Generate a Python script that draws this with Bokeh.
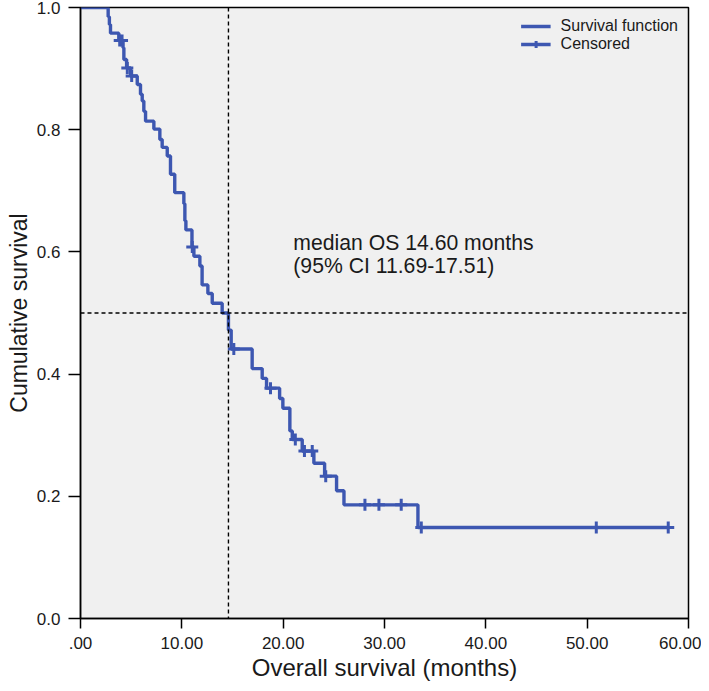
from bokeh.plotting import figure
from bokeh.models import Range1d, FixedTicker, Span, Legend, LegendItem, ColumnDataSource
from bokeh.core.properties import value
from bokeh.embed import file_html
from bokeh.resources import INLINE

# Kaplan-Meier step curve (time in months, cumulative survival after the step)
km_time = [0.0, 2.73, 2.85, 2.96, 3.78, 4.20, 4.28, 4.55, 4.95, 5.60, 5.92, 6.09,
           6.25, 6.42, 7.24, 7.83, 8.06, 8.56, 8.88, 9.30, 10.20, 10.30, 10.40,
           11.00, 11.19, 11.78, 12.00, 12.57, 13.00, 13.98, 14.60, 14.87, 16.94,
           17.93, 18.36, 19.65, 19.97, 20.66, 20.90, 21.88, 23.03, 24.09, 25.27,
           26.00, 33.30, 58.00]
km_surv = [1.000, 0.985, 0.972, 0.958, 0.946, 0.934, 0.915, 0.901, 0.888, 0.874,
           0.858, 0.847, 0.830, 0.814, 0.801, 0.784, 0.771, 0.757, 0.727, 0.697,
           0.679, 0.651, 0.636, 0.608, 0.593, 0.577, 0.546, 0.532, 0.516, 0.500,
           0.472, 0.441, 0.409, 0.393, 0.377, 0.360, 0.344, 0.307, 0.293, 0.274,
           0.254, 0.233, 0.209, 0.186, 0.149, 0.149]

# Censored observations
cens_time = [3.87, 4.10, 4.62, 5.05, 11.03, 15.13, 18.75, 21.20, 22.10, 22.87,
             24.20, 28.07, 29.45, 31.65, 33.63, 50.90, 58.00]
cens_surv = [0.946, 0.946, 0.901, 0.888, 0.608, 0.441, 0.377, 0.293, 0.274, 0.274,
             0.233, 0.186, 0.186, 0.186, 0.149, 0.149, 0.149]

x_ticks = [0, 10, 20, 30, 40, 50, 60]
x_tick_labels = [".00", "10.00", "20.00", "30.00", "40.00", "50.00", "60.00"]
y_ticks = [0.0, 0.2, 0.4, 0.6, 0.8, 1.0]
y_tick_labels = ["0.0", "0.2", "0.4", "0.6", "0.8", "1.0"]

median_os = 14.60
median_level = 0.5
ci_low, ci_high = 11.69, 17.51

BLUE = "#3d57b1"
FONT = "Liberation Sans"
INK = "#1a1a1a"

p = figure(width=701, height=683, output_backend="svg", toolbar_location=None,
           x_range=Range1d(0, 60), y_range=Range1d(0, 1),
           min_border_left=80, min_border_right=13, min_border_top=7,
           min_border_bottom=63)

p.background_fill_color = "#f0f0f0"
p.border_fill_color = "white"
p.outline_line_color = "black"
p.outline_line_width = 1.5
p.grid.visible = False

for ax in (p.xaxis, p.yaxis):
    ax.axis_line_color = "black"
    ax.axis_line_width = 1.5
    ax.major_tick_line_color = "black"
    ax.major_tick_line_width = 1.5
    ax.major_tick_in = 0
    ax.minor_tick_line_color = None
    ax.major_label_text_font = FONT
    ax.major_label_text_font_size = "17px"
    ax.major_label_text_color = INK
    ax.axis_label_text_font = FONT
    ax.axis_label_text_font_style = "normal"
    ax.axis_label_text_color = INK

p.xaxis.major_tick_out = 10
p.yaxis.major_tick_out = 12
p.xaxis.axis_label_text_font_size = "24px"
p.yaxis.axis_label_text_font_size = "23px"
p.xaxis.ticker = FixedTicker(ticks=x_ticks)
p.xaxis.major_label_overrides = {t: l for t, l in zip(x_ticks, x_tick_labels)}
p.yaxis.ticker = FixedTicker(ticks=y_ticks)
p.yaxis.major_label_overrides = {t: l for t, l in zip(y_ticks, y_tick_labels)}
p.xaxis.axis_label = "Overall survival (months)"
p.yaxis.axis_label = "Cumulative survival"
p.xaxis.major_label_standoff = 8
p.xaxis.axis_label_standoff = 2
p.yaxis.major_label_standoff = 8
p.yaxis.axis_label_standoff = 2

# median reference lines
p.add_layout(Span(location=median_os, dimension="height", line_color="black",
                  line_width=1.4, line_dash="4 3"))
p.add_layout(Span(location=median_level, dimension="width", line_color="black",
                  line_width=1.4, line_dash="4 3"))

km_src = ColumnDataSource(dict(t=km_time, s=km_surv))
cens_src = ColumnDataSource(dict(t=cens_time, s=cens_surv))

step_r = p.step(x="t", y="s", source=km_src, mode="after", line_color=BLUE, line_width=3.4)
cens_r = p.scatter(x="t", y="s", source=cens_src, marker="cross", size=12,
                   line_color=BLUE, line_width=3.0)

ann_text = f"median OS {median_os:.2f} months\n(95% CI {ci_low:.2f}-{ci_high:.2f})"
p.text(x=[21.0], y=[0.597], text=[ann_text], text_font=value(FONT),
       text_font_size="21.2px", text_baseline="middle", text_align="left",
       text_color=INK, text_line_height=1.0)

legend = Legend(items=[LegendItem(label="Survival function", renderers=[step_r]),
                       LegendItem(label="Censored", renderers=[step_r, cens_r])],
                location="top_right", background_fill_color="#f0f0f0",
                background_fill_alpha=1.0, border_line_color=None,
                label_text_font=FONT, label_text_font_size="16px",
                label_text_color=INK, label_height=18, glyph_height=18,
                glyph_width=30, spacing=0, padding=4, margin=10, label_standoff=10)
p.add_layout(legend)

open("out.html", "w").write(file_html(p, INLINE))
